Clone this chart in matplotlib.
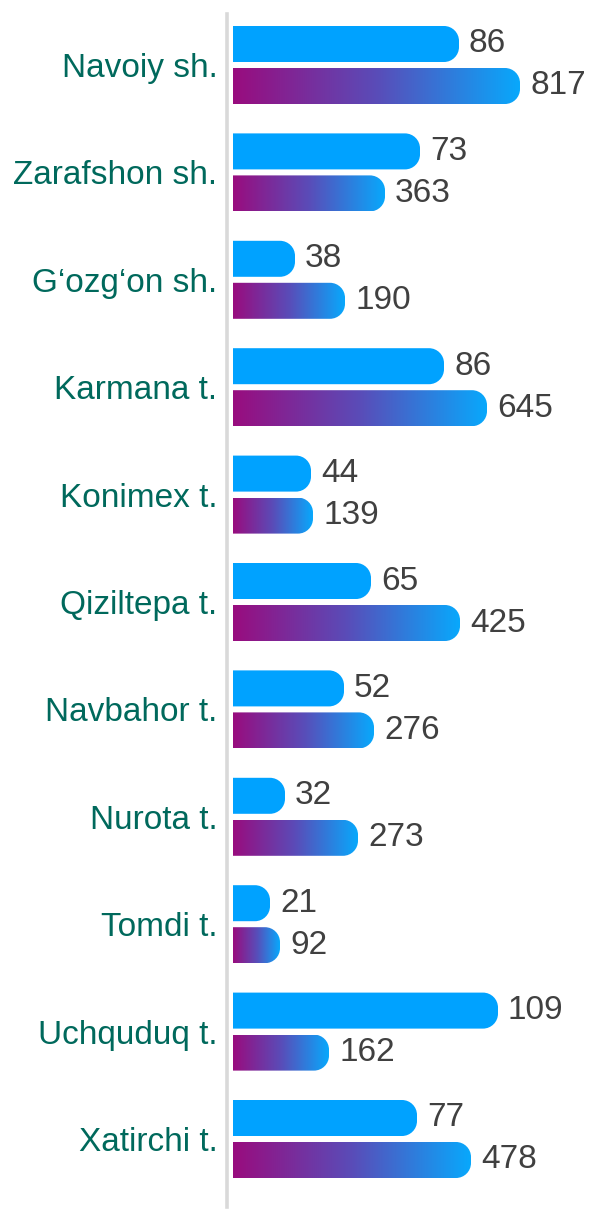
import numpy as np
import matplotlib
matplotlib.use("Agg")
import matplotlib.pyplot as plt
from matplotlib.path import Path
from matplotlib.patches import PathPatch
from matplotlib.colors import LinearSegmentedColormap

plt.rcParams['font.family'] = ['Liberation Sans', 'DejaVu Sans']

# districts, top to bottom
districts = ["Navoiy sh.", "Zarafshon sh.", "G\u2018ozg\u2018on sh.", "Karmana t.", "Konimex t.",
             "Qiziltepa t.", "Navbahor t.", "Nurota t.", "Tomdi t.", "Uchquduq t.", "Xatirchi t."]
# printed values
blue_vals = [86, 73, 38, 86, 44, 65, 52, 32, 21, 109, 77]
grad_vals = [817, 363, 190, 645, 139, 425, 276, 273, 92, 162, 478]
# bar lengths as drawn in the picture (not proportional to the printed values)
blue_len = [226, 187, 62, 211, 78, 138, 111, 52, 37, 265, 184]
grad_len = [287, 152, 112, 254, 80, 227, 141, 125, 47, 96, 238]

W, H, DPI = 597, 1214, 100
row_px = 107.4      # distance between groups
top_px = 65         # centre of first group
bar_h = 36 / row_px
off = 21 / row_px
r_px = 15           # corner radius of the rounded end

fig = plt.figure(figsize=(W / DPI, H / DPI), dpi=DPI)
ax = fig.add_axes([227 / W, 0, 370 / W, 1])
xlim = (-6, 364)
ylim = ((H - top_px) / row_px, -top_px / row_px)


def rounded_bar(y_c, length):
    rx = min(r_px, length)
    ry = r_px / row_px
    k = 0.5523
    y0, y1 = y_c - bar_h / 2, y_c + bar_h / 2
    verts = [(0, y0), (length - rx, y0),
             (length - rx + k * rx, y0), (length, y0 + ry - k * ry), (length, y0 + ry),
             (length, y1 - ry),
             (length, y1 - ry + k * ry), (length - rx + k * rx, y1), (length - rx, y1),
             (0, y1), (0, y0)]
    codes = [Path.MOVETO, Path.LINETO,
             Path.CURVE4, Path.CURVE4, Path.CURVE4,
             Path.LINETO,
             Path.CURVE4, Path.CURVE4, Path.CURVE4,
             Path.LINETO, Path.CLOSEPOLY]
    return Path(verts, codes)


cmap = LinearSegmentedColormap.from_list("pb", ["#990C7E", "#5A4CB8", "#08A8FC"])
grad = np.linspace(0, 1, 256).reshape(1, -1)

for i in range(len(districts)):
    yb = i - off
    yg = i + off
    p = PathPatch(rounded_bar(yb, blue_len[i]), facecolor="#00A2FF", edgecolor="none")
    ax.add_patch(p)
    ax.text(blue_len[i] + 10, yb, str(blue_vals[i]), va="center", ha="left",
            fontsize=24, color="#404040")

    pg = PathPatch(rounded_bar(yg, grad_len[i]), facecolor="none", edgecolor="none")
    ax.add_patch(pg)
    im = ax.imshow(grad, cmap=cmap, aspect="auto", interpolation="bilinear",
                   extent=(0, grad_len[i], yg + bar_h / 2, yg - bar_h / 2))
    im.set_clip_path(pg)
    ax.text(grad_len[i] + 10, yg, str(grad_vals[i]), va="center", ha="left",
            fontsize=24, color="#404040")

ax.set_xlim(*xlim)
ax.set_ylim(*ylim)
ax.set_yticks(range(len(districts)))
ax.set_yticklabels(districts, fontsize=24, color="#00695C")
ax.tick_params(axis="y", length=0, pad=7)
ax.set_xticks([])
for s in ["top", "right", "bottom"]:
    ax.spines[s].set_visible(False)
ax.spines["left"].set_color("#D9D9D9")
ax.spines["left"].set_linewidth(2.6)
ax.spines["left"].set_bounds((14 - top_px) / row_px, (1207 - top_px) / row_px)
ax.patch.set_visible(False)

fig.savefig("out.png", dpi=DPI)
